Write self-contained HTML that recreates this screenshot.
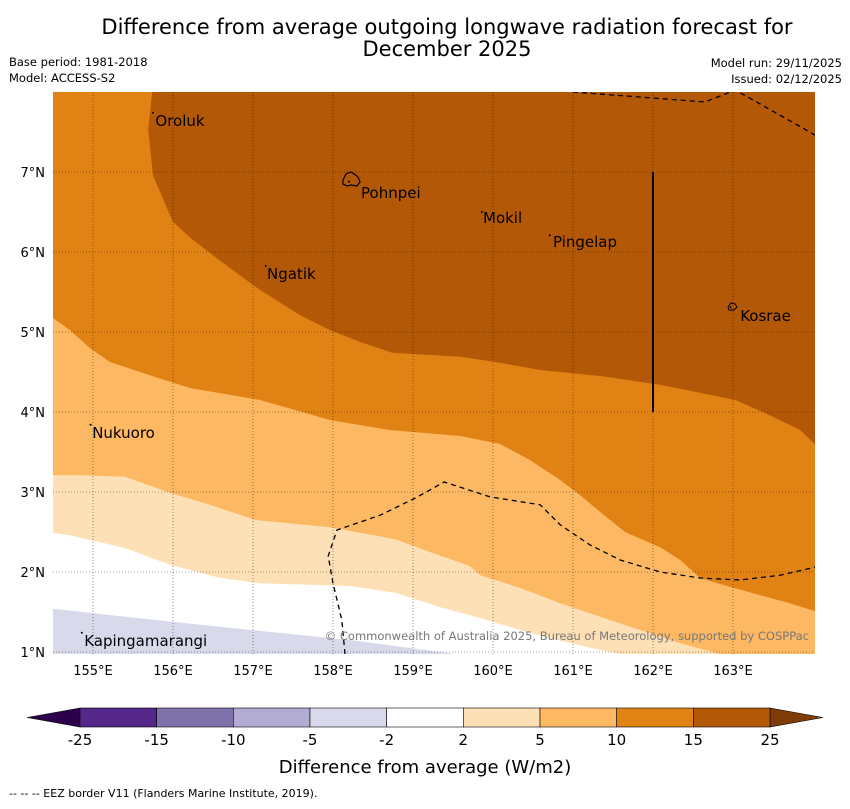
<!DOCTYPE html>
<html><head><meta charset="utf-8"><style>
body{margin:0;background:#fff;font-family:"Liberation Sans","DejaVu Sans",sans-serif;}
svg text{font-family:"DejaVu Sans","Liberation Sans",sans-serif;}
</style></head><body>
<svg id="chart" width="850" height="804" xmlns="http://www.w3.org/2000/svg">
<text x="447" y="34" font-size="21" text-anchor="middle">Difference from average outgoing longwave radiation forecast for</text>
<text x="447" y="56" font-size="21" text-anchor="middle">December 2025</text>
<text x="9" y="66" font-size="11.5">Base period: 1981-2018</text>
<text x="9" y="82" font-size="11.5">Model: ACCESS-S2</text>
<text x="842" y="67" font-size="11.5" text-anchor="end">Model run: 29/11/2025</text>
<text x="842" y="83" font-size="11.5" text-anchor="end">Issued: 02/12/2025</text>
<defs><clipPath id="mapclip"><rect x="53" y="92" width="762" height="562"/></clipPath></defs>
<g id="map" clip-path="url(#mapclip)"></g>
<g id="axes"></g>
<g id="cbar"></g>
<text x="425" y="773" font-size="18" text-anchor="middle">Difference from average (W/m2)</text>
<text x="9" y="797" font-size="11">--  --  -- EEZ border V11 (Flanders Marine Institute, 2019).</text>
</svg>
<script>
const lonTicks=[155,156,157,158,159,160,161,162,163];
const latTicks=[1,2,3,4,5,6,7];
const cbLevels=["-25","-15","-10","-5","-2","2","5","10","15","25"];
const cbColors=["#542788","#8073ac","#b2abd2","#d8daeb","#ffffff","#fee0b6","#fdb863","#e08214","#b35806"];
// contour boundaries [lon,lat]
const c25=[[155.75,8.1],[155.69,7.525],[155.75,6.96],[156.0,6.375],[156.25,6.15],[156.71,5.8],[157.09,5.525],[157.59,5.21],[157.96,5.025],[158.34,4.875],[158.74,4.74],[159.59,4.69],[160.03,4.625],[160.59,4.525],[161.34,4.45],[162.09,4.34],[163.03,4.15],[163.46,3.96],[163.84,3.775],[164.03,3.59]];
const c15=[[154.5,5.175],[154.71,5.025],[154.96,4.8],[155.21,4.625],[155.71,4.46],[156.21,4.3],[157.09,4.15],[157.96,3.9],[158.71,3.775],[159.59,3.7],[160.09,3.6],[160.46,3.4],[160.84,3.15],[161.09,2.96],[161.34,2.75],[161.65,2.5],[162.09,2.31],[162.34,2.15],[162.59,1.925],[162.84,1.85],[163.34,1.71],[163.71,1.61],[164.03,1.51]];
const c10=[[154.5,3.21],[154.84,3.21],[155.4,3.19],[155.96,2.99],[156.46,2.84],[157.03,2.65],[157.96,2.56],[158.78,2.41],[159.21,2.25],[159.71,2.075],[159.84,1.96],[160.34,1.8],[160.84,1.61],[161.34,1.44],[161.84,1.275],[162.34,1.11],[162.84,0.975]];
const c5=[[154.5,2.49],[154.71,2.46],[155.4,2.3],[155.96,2.09],[156.59,1.925],[157.09,1.86],[158.21,1.825],[158.78,1.74],[159.34,1.56],[159.84,1.425],[160.34,1.275],[160.84,1.14],[161.34,1.025],[161.59,0.975]];
const cm5=[[154.5,1.54],[156.34,1.34],[158.21,1.15],[159.53,0.975]];
const eez1=[[161.0,8.0],[162.65,7.875],[163.03,8.025],[164.03,7.46]];
const eez2=[[158.15,0.975],[158.11,1.4],[158.0,1.86],[157.94,2.2],[158.05,2.525],[158.59,2.71],[159.03,2.925],[159.39,3.125],[159.96,2.94],[160.59,2.84],[160.84,2.59],[161.21,2.34],[161.59,2.15],[162.09,2.0],[162.59,1.925],[163.09,1.9],[163.59,1.96],[164.03,2.06]];
const islands=[["Oroluk",155.78,7.64,155.75,7.74],["Pohnpei",158.35,6.74,158.2,6.88],["Mokil",159.875,6.425,159.86,6.5],["Pingelap",160.75,6.125,160.71,6.21],["Ngatik",157.175,5.725,157.16,5.825],["Kosrae",163.09,5.2,162.97,5.31],["Nukuoro",154.99,3.74,154.97,3.84],["Kapingamarangi",154.89,1.14,154.86,1.24]];
const X=lon=>93+(lon-155)*80, Y=lat=>172-(lat-7)*80;
const NS="http://www.w3.org/2000/svg";
function mk(p,t,a){const e=document.createElementNS(NS,t);for(const k in a)e.setAttribute(k,a[k]);p.appendChild(e);return e;}
const map=document.getElementById('map');
function poly(pts,close,fill,name){let d=pts.map((p,i)=>(i?'L':'M')+X(p[0])+','+Y(p[1])).join('');d+=close;const e=mk(map,'path',{d:d,fill:fill});}
mk(map,'rect',{x:53,y:92,width:762,height:562,fill:'#fee0b6'});
poly(c5,'L'+X(154.4)+','+Y(0.9)+'Z','#ffffff','band-2-to-2');
poly(cm5,'L'+X(154.4)+','+Y(0.9)+'Z','#d8daeb','band-neg5-to-neg2');
poly(c10,'L'+X(164.1)+','+Y(0.9)+'L'+X(164.1)+','+Y(8.1)+'L'+X(154.4)+','+Y(8.1)+'Z','#fdb863','band-5-to-10');
poly(c15,'L'+X(164.1)+','+Y(1.5)+'L'+X(164.1)+','+Y(8.1)+'L'+X(154.4)+','+Y(8.1)+'Z','#e08214','band-10-to-15');
poly(c25,'L'+X(164.1)+','+Y(3.59)+'L'+X(164.1)+','+Y(8.1)+'Z','#b35806','band-15-to-25');
[eez1,eez2].forEach((l,i)=>{const e=mk(map,'path',{d:l.map((p,j)=>(j?'L':'M')+X(p[0])+','+Y(p[1])).join(''),fill:'none',stroke:'#000','stroke-width':1.3,'stroke-dasharray':'5,4'});});
const ln=mk(map,'line',{x1:X(162),y1:Y(7),x2:X(162),y2:Y(4),stroke:'#000','stroke-width':2});

lonTicks.forEach(v=>{const g=mk(map,'line',{x1:X(v),y1:92,x2:X(v),y2:654,stroke:'#000','stroke-width':0.6,'stroke-dasharray':'1,2',opacity:0.7});});
latTicks.forEach(v=>{const g=mk(map,'line',{x1:53,y1:Y(v),x2:815,y2:Y(v),stroke:'#000','stroke-width':0.6,'stroke-dasharray':'1,2',opacity:0.7});});
islands.forEach(s=>{const d=mk(map,'circle',{cx:X(s[3]),cy:Y(s[4]),r:1,fill:'#000'});
const t=mk(map,'text',{x:X(s[1]),y:Y(s[2])+5,'font-size':15});t.textContent=s[0];});
const p=mk(map,'path',{d:'M343,180 l3,-6 l5,-2 l3,2 l4,3 l2,5 l-3,4 l-6,-1 l-4,1 l-4,-2z',fill:'none',stroke:'#000','stroke-width':1.2});
const k=mk(map,'path',{d:'M728,307 l3,-4 l4,1 l2,3 l-3,3 l-5,0z',fill:'none',stroke:'#000','stroke-width':1});
const cr=mk(map,'text',{x:809,y:640,'font-size':11.5,'text-anchor':'end',fill:'#777'});cr.textContent='© Commonwealth of Australia 2025, Bureau of Meteorology, supported by COSPPac';

const ax=document.getElementById('axes');
lonTicks.forEach(v=>{const t=mk(ax,'text',{x:X(v),y:675,'font-size':13,'text-anchor':'middle'});t.textContent=v+'°E';});
latTicks.forEach(v=>{const t=mk(ax,'text',{x:45,y:Y(v)+5,'font-size':13,'text-anchor':'end'});t.textContent=v+'°N';});
const cb=document.getElementById('cbar');const x0=80,w=(770-80)/cbColors.length;
const lt=mk(cb,'path',{d:'M80,708 L27,717.5 L80,727Z',fill:'#2d004b',stroke:'#000','stroke-width':0.6});
const rt=mk(cb,'path',{d:'M770,708 L823,717.5 L770,727Z',fill:'#7f3b08',stroke:'#000','stroke-width':0.6});
cbColors.forEach((c,i)=>{const r=mk(cb,'rect',{x:x0+i*w,y:708,width:w,height:19,fill:c,stroke:'#000','stroke-width':0.6});});
cbLevels.forEach((l,i)=>{const t=mk(cb,'text',{x:x0+i*w,y:745,'font-size':15,'text-anchor':'middle'});t.textContent=l;});
</script>
</body></html>
